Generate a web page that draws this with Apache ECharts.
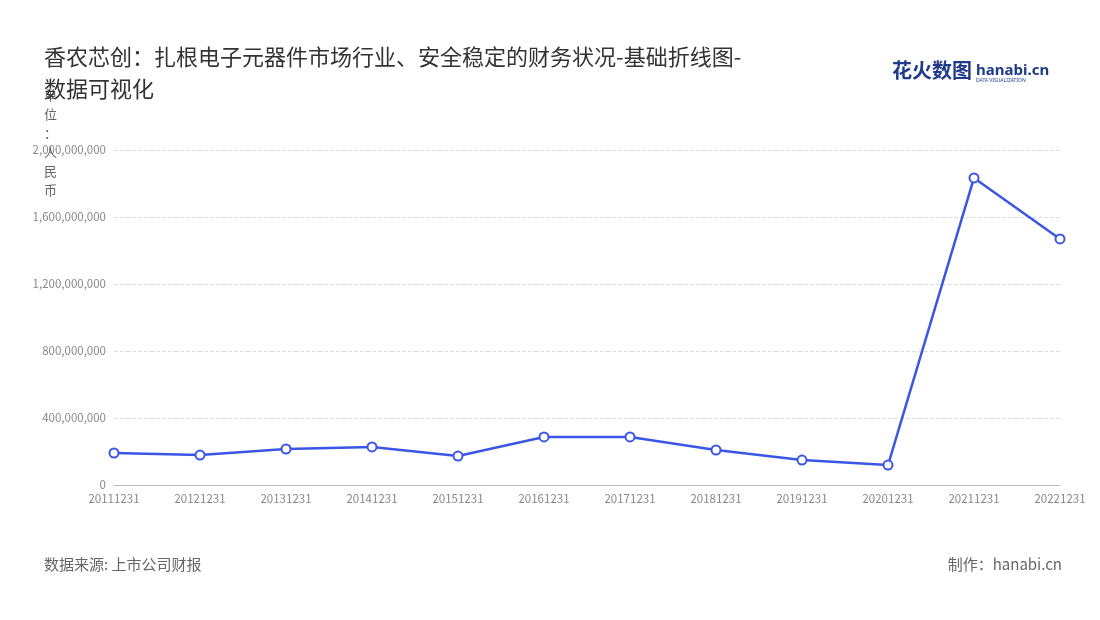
<!DOCTYPE html>
<html><head><meta charset="utf-8">
<script src="https://cdn.jsdelivr.net/npm/echarts@6/dist/echarts.min.js"></script>
<style>html,body{margin:0;padding:0;background:#fff}#c{width:1100px;height:620px}</style>
</head><body><div id="c"></div>
<script>
const categories=['20111231','20121231','20131231','20141231','20151231','20161231','20171231','20181231','20191231','20201231','20211231','20221231'];
const values=[191000000,179000000,215000000,227000000,173000000,287000000,287000000,209000000,149000000,119000000,1833000000,1469000000];
const yTicks=[0,400000000,800000000,1200000000,1600000000,2000000000];
const chart=echarts.init(document.getElementById('c'));
const F='"Noto Sans CJK SC","Noto Sans",sans-serif';
chart.setOption({
  textStyle:{fontFamily:F},
  title:{text:'香农芯创：扎根电子元器件市场行业、安全稳定的财务状况-基础折线图-\n数据可视化',left:39,top:36,textStyle:{fontSize:22,fontWeight:'normal',color:'#333',lineHeight:32,fontFamily:F}},
  graphic:[
    {type:'text',left:44,top:86,style:{text:'单\n位\n：\n人\n民\n币',fill:'#666',font:'13px '+F,lineHeight:19,textAlign:'center'}},
    {type:'text',left:892,top:60,style:{text:'花火数图',fill:'#1f3a8a',font:'bold 20px '+F}},
    {type:'text',left:976,top:63,style:{text:'hanabi.cn',fill:'#1f3a8a',font:'bold 15px "Noto Sans",sans-serif'}},
    {type:'text',left:976,top:78,style:{text:'DATA VISUALIZATION',fill:'#1f3a8a',font:'5px "Noto Sans",sans-serif'}},
    {type:'text',left:44,top:557,style:{text:'数据来源: 上市公司财报',fill:'#666',font:'15px '+F}},
    {type:'text',right:38,top:557,style:{text:'制作：hanabi.cn',fill:'#666',font:'15px '+F,textAlign:'right'}}
  ],
  grid:{left:114,right:40,top:150,bottom:135},
  xAxis:{type:'category',data:categories,boundaryGap:false,
    axisLine:{lineStyle:{color:'#bbb'}},axisTick:{show:false},
    axisLabel:{color:'#888',fontSize:11.5,interval:0,margin:8}},
  yAxis:{type:'value',min:yTicks[0],max:yTicks[yTicks.length-1],interval:400000000,
    axisLine:{show:false},axisTick:{show:false},
    axisLabel:{color:'#888',fontSize:11.5,formatter:v=>v.toLocaleString('en-US')},
    splitLine:{lineStyle:{type:'dashed',color:'#ddd'}}},
  series:[{type:'line',data:values,symbol:'circle',symbolSize:9,
    lineStyle:{color:'#3b56e6',width:2.5},
    itemStyle:{color:'#fff',borderColor:'#3b56e6',borderWidth:2}}]
});
</script></body></html>
